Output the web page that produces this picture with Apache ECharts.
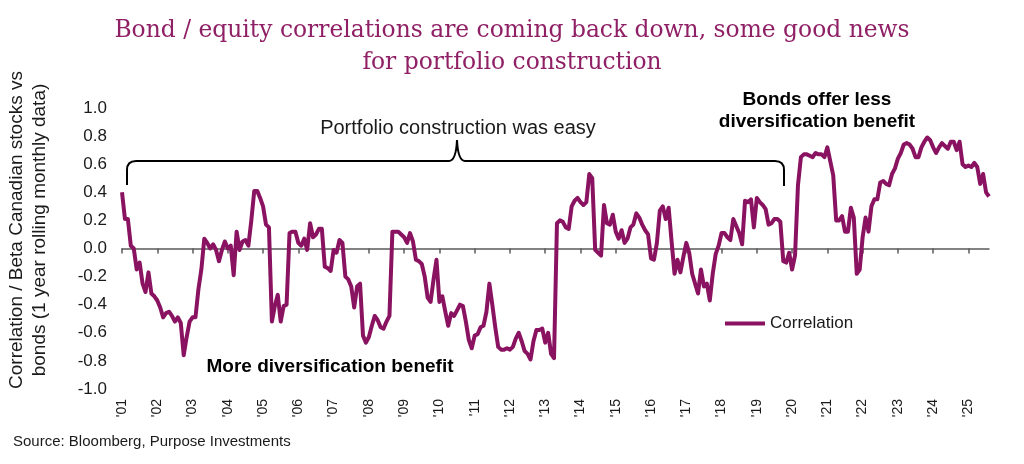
<!DOCTYPE html>
<html>
<head>
<meta charset="utf-8">
<title>Bond / equity correlations</title>
<script src="https://cdn.jsdelivr.net/npm/echarts@6/dist/echarts.min.js"></script>
<style>
  html, body { margin: 0; padding: 0; background: #fff; }
  #main { width: 1024px; height: 464px; }
</style>
</head>
<body>
<div id="main"></div>
<script>
// first month of the series is Jan 2001
var startYear = 2001;

// one label per January
var yearLabels = ["'01", "'02", "'03", "'04", "'05", "'06", "'07", "'08", "'09", "'10",
  "'11", "'12", "'13", "'14", "'15", "'16", "'17", "'18", "'19", "'20",
  "'21", "'22", "'23", "'24", "'25"];

// 1 year rolling correlation, monthly (one row per year)
var correlation = [
  0.40, 0.21, 0.21, 0.02, 0.00, -0.15, -0.10, -0.25, -0.31, -0.17, -0.32, -0.34,   // 2001
  -0.37, -0.42, -0.49, -0.46, -0.45, -0.48, -0.52, -0.49, -0.53, -0.76, -0.63, -0.52, // 2002
  -0.49, -0.49, -0.29, -0.15, 0.07, 0.04, 0.00, 0.03, -0.01, -0.09, -0.01, 0.05,   // 2003
  0.00, 0.02, -0.19, 0.12, -0.01, 0.05, 0.06, 0.02, 0.20, 0.41, 0.41, 0.36,        // 2004
  0.30, 0.17, 0.15, -0.52, -0.41, -0.33, -0.52, -0.41, -0.40, 0.11, 0.12, 0.12,    // 2005
  0.04, 0.02, 0.07, -0.01, 0.18, 0.08, 0.10, 0.14, 0.14, -0.13, -0.14, -0.16,      // 2006
  -0.01, -0.03, 0.06, 0.04, -0.20, -0.22, -0.27, -0.42, -0.27, -0.25, -0.62, -0.67, // 2007
  -0.63, -0.55, -0.48, -0.51, -0.56, -0.57, -0.52, -0.48, 0.12, 0.12, 0.12, 0.10,  // 2008
  0.08, 0.04, 0.11, 0.05, -0.08, -0.09, -0.11, -0.20, -0.35, -0.38, -0.22, -0.08,  // 2009
  -0.38, -0.34, -0.45, -0.55, -0.46, -0.48, -0.44, -0.40, -0.41, -0.52, -0.65, -0.71, // 2010
  -0.62, -0.61, -0.56, -0.55, -0.45, -0.25, -0.40, -0.56, -0.70, -0.72, -0.72, -0.71, // 2011
  -0.72, -0.70, -0.64, -0.60, -0.66, -0.73, -0.75, -0.79, -0.66, -0.58, -0.58, -0.57, // 2012
  -0.67, -0.60, -0.75, -0.78, 0.18, 0.20, 0.19, 0.15, 0.14, 0.30, 0.34, 0.36,      // 2013
  0.33, 0.31, 0.33, 0.53, 0.50, -0.01, -0.03, -0.05, 0.31, 0.18, 0.17, 0.24,       // 2014
  0.12, 0.07, 0.13, 0.04, 0.07, 0.15, 0.17, 0.25, 0.22, 0.17, 0.13, 0.10,          // 2015
  -0.07, -0.08, 0.04, 0.27, 0.30, 0.21, 0.29, 0.05, -0.18, -0.08, -0.17, -0.06,    // 2016
  0.04, -0.03, -0.18, -0.25, -0.32, -0.15, -0.27, -0.25, -0.37, -0.18, -0.04, 0.02, // 2017
  0.11, 0.11, 0.08, 0.06, 0.21, 0.16, 0.11, 0.03, 0.34, 0.33, 0.35, 0.15,          // 2018
  0.36, 0.33, 0.31, 0.28, 0.17, 0.18, 0.21, 0.21, 0.19, -0.09, -0.10, -0.03,       // 2019
  -0.15, -0.05, 0.45, 0.65, 0.67, 0.67, 0.66, 0.65, 0.68, 0.67, 0.67, 0.65,        // 2020
  0.72, 0.62, 0.52, 0.20, 0.20, 0.23, 0.12, 0.12, 0.29, 0.22, -0.18, -0.15,        // 2021
  0.08, 0.22, 0.12, 0.30, 0.35, 0.35, 0.47, 0.48, 0.46, 0.45, 0.53, 0.57,          // 2022
  0.64, 0.68, 0.74, 0.75, 0.74, 0.71, 0.65, 0.65, 0.72, 0.76, 0.79, 0.77,          // 2023
  0.72, 0.68, 0.72, 0.75, 0.73, 0.71, 0.76, 0.76, 0.70, 0.76, 0.60, 0.58,          // 2024
  0.59, 0.58, 0.61, 0.58, 0.46, 0.53, 0.40, 0.37                                   // 2025
];

// month categories, e.g. 2001-01
var months = [];
for (var i = 0; i < correlation.length; i++) {
  var mm = i % 12 + 1;
  months.push((startYear + Math.floor(i / 12)) + '-' + (mm < 10 ? '0' + mm : mm));
}

var sans = 'Liberation Sans, Arial, sans-serif';
var lineColor = '#8a1361';
var isJan = function (index) { return index % 12 === 0; };

var chart = echarts.init(document.getElementById('main'));
chart.setOption({
  animation: false,
  backgroundColor: '#fff',
  grid: { left: 122, right: 35, top: 108, bottom: 75 },
  legend: {
    data: ['Correlation'],
    left: 720,
    top: 310,
    icon: 'rect',
    itemWidth: 40,
    itemHeight: 4,
    textStyle: { fontFamily: sans, fontSize: 17, color: '#1a1a1a' }
  },
  xAxis: [
    // labels along the bottom
    {
      type: 'category',
      data: months,
      boundaryGap: false,
      position: 'bottom',
      axisLine: { show: false, onZero: false },
      axisTick: { show: false },
      splitLine: { show: false },
      axisLabel: {
        interval: isJan,
        rotate: 90,
        margin: 10,
        fontFamily: sans,
        fontSize: 14,
        color: '#1a1a1a',
        formatter: function (value, index) { return yearLabels[Math.floor(index / 12)]; }
      }
    },
    // the line through zero with year ticks
    {
      type: 'category',
      data: months,
      boundaryGap: false,
      position: 'top',
      axisLine: { show: true, onZero: true, lineStyle: { color: '#595959', width: 1.5 } },
      axisTick: { show: true, inside: true, interval: isJan, length: 5, lineStyle: { color: '#595959', width: 1.5 } },
      axisLabel: { show: false },
      splitLine: { show: false }
    }
  ],
  yAxis: {
    type: 'value',
    min: -1,
    max: 1,
    interval: 0.2,
    axisLine: { show: false },
    axisTick: { show: false },
    splitLine: { show: false },
    axisLabel: {
      margin: 15,
      fontFamily: sans,
      fontSize: 17,
      color: '#1a1a1a',
      formatter: function (v) { return v.toFixed(1); }
    }
  },
  series: [
    {
      name: 'Correlation',
      type: 'line',
      xAxisIndex: 0,
      data: correlation,
      showSymbol: false,
      symbol: 'none',
      itemStyle: { color: lineColor },
      lineStyle: { color: lineColor, width: 4, join: 'round' }
    }
  ],
  graphic: [
    // title, two centred lines
    {
      type: 'text',
      x: 512,
      y: 47,
      style: {
        text: 'Bond / equity correlations are coming back down, some good news\nfor portfolio construction',
        font: '23.4px DejaVu Serif, Georgia, serif',
        fill: '#902066',
        align: 'center',
        verticalAlign: 'middle',
        lineHeight: 32
      }
    },
    // y axis title, two lines
    {
      type: 'text',
      x: 28,
      y: 230,
      rotation: Math.PI / 2,
      style: {
        text: 'Correlation / Beta Canadian stocks vs\nbonds (1 year rolling monthly data)',
        font: '19px ' + sans,
        fill: '#1a1a1a',
        align: 'center',
        verticalAlign: 'middle',
        lineHeight: 23
      }
    },
    {
      type: 'text',
      x: 458,
      y: 128,
      style: { text: 'Portfolio construction was easy', font: '20px ' + sans, fill: '#1a1a1a', align: 'center', verticalAlign: 'middle' }
    },
    {
      type: 'text',
      x: 330,
      y: 367,
      style: { text: 'More diversification benefit', font: 'bold 19px ' + sans, fill: '#000', align: 'center', verticalAlign: 'middle' }
    },
    {
      type: 'text',
      x: 817,
      y: 111,
      style: { text: 'Bonds offer less\ndiversification benefit', font: 'bold 19px ' + sans, fill: '#000', align: 'center', verticalAlign: 'middle', lineHeight: 22 }
    },
    {
      type: 'text',
      x: 13,
      y: 442,
      style: { text: 'Source: Bloomberg, Purpose Investments', font: '15px ' + sans, fill: '#1a1a1a', align: 'left', verticalAlign: 'middle' }
    },
    // the brace over the easy years
    { type: 'line', shape: { x1: 127, y1: 185, x2: 127, y2: 170 }, style: { stroke: '#000', lineWidth: 2 } },
    { type: 'bezierCurve', shape: { x1: 127, y1: 170, cpx1: 127, cpy1: 161, x2: 136, y2: 161 }, style: { stroke: '#000', lineWidth: 2, fill: null } },
    { type: 'line', shape: { x1: 136, y1: 161, x2: 449, y2: 161 }, style: { stroke: '#000', lineWidth: 2 } },
    { type: 'bezierCurve', shape: { x1: 449, y1: 161, cpx1: 456, cpy1: 161, x2: 457, y2: 140 }, style: { stroke: '#000', lineWidth: 2, fill: null } },
    { type: 'bezierCurve', shape: { x1: 457, y1: 140, cpx1: 458, cpy1: 161, x2: 465, y2: 161 }, style: { stroke: '#000', lineWidth: 2, fill: null } },
    { type: 'line', shape: { x1: 465, y1: 161, x2: 775, y2: 161 }, style: { stroke: '#000', lineWidth: 2 } },
    { type: 'bezierCurve', shape: { x1: 775, y1: 161, cpx1: 784, cpy1: 161, x2: 784, y2: 170 }, style: { stroke: '#000', lineWidth: 2, fill: null } },
    { type: 'line', shape: { x1: 784, y1: 170, x2: 784, y2: 186 }, style: { stroke: '#000', lineWidth: 2 } }
  ]
});
</script>
</body>
</html>
